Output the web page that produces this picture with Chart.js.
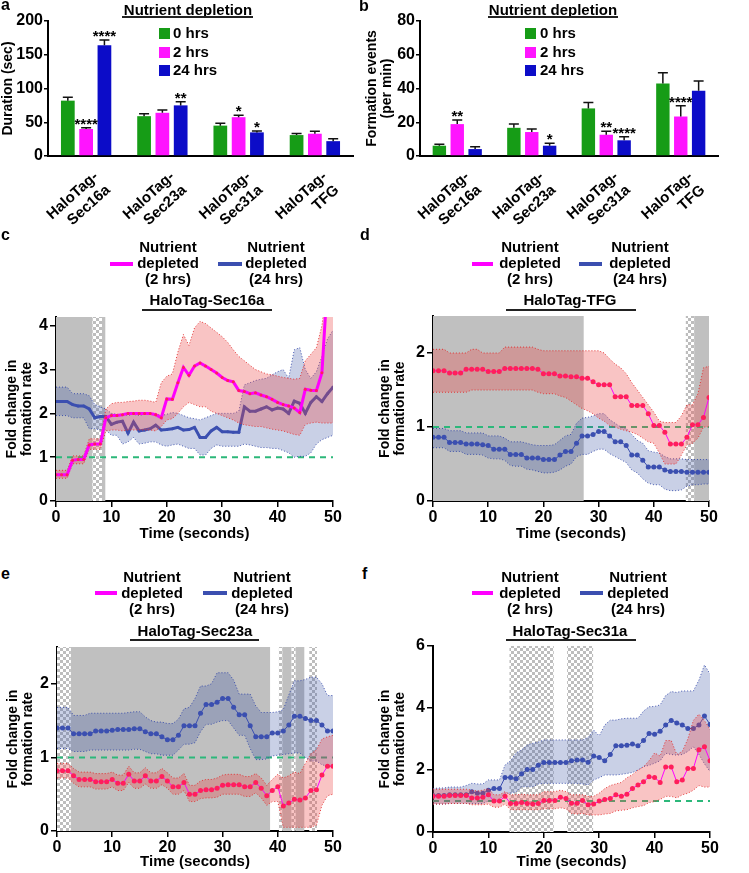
<!DOCTYPE html>
<html>
<head>
<meta charset="utf-8">
<script src="https://cdn.jsdelivr.net/npm/chart.js@4.4.1/dist/chart.umd.min.js"></script>
<style>
  body { margin: 0; background: #fff; width: 749px; height: 873px; position: relative; overflow: hidden;
         font-family: "Liberation Sans", Arial, sans-serif; font-weight: bold; color: #000; }
  canvas { position: absolute; }
  .t { position: absolute; font-size: 15px; line-height: 16px; text-align: center; white-space: nowrap; z-index: 2; }
  .lt { position: absolute; font-size: 15px; line-height: 16px; white-space: nowrap; z-index: 2; }
  .sw { position: absolute; height: 4px; z-index: 2; }
  .ul { position: absolute; height: 2px; background: #222; z-index: 2; }
  .sq { position: absolute; width: 11px; height: 11px; z-index: 2; }
  .pl { position: absolute; font-size: 16px; line-height: 16px; z-index: 2; }
</style>
</head>
<body>

<div class="pl" style="left:1px;top:-3px">a</div>
<div class="pl" style="left:359px;top:-2px">b</div>
<div class="pl" style="left:1px;top:227px">c</div>
<div class="pl" style="left:360px;top:227px">d</div>
<div class="pl" style="left:1px;top:566px">e</div>
<div class="pl" style="left:362px;top:566px">f</div>

<!-- bar legends -->
<div class="t" style="left:108px;top:2px;width:160px">Nutrient depletion</div>
<div class="ul" style="left:122px;top:16px;width:131px"></div>
<div class="sq" style="left:159px;top:28px;background:#169c16"></div>
<div class="sq" style="left:159px;top:47px;background:#ff14ff"></div>
<div class="sq" style="left:159px;top:65px;background:#0c0cc8"></div>
<div class="lt" style="left:173px;top:25px">0 hrs</div>
<div class="lt" style="left:173px;top:44px">2 hrs</div>
<div class="lt" style="left:173px;top:62px">24 hrs</div>

<div class="t" style="left:473px;top:2px;width:160px">Nutrient depletion</div>
<div class="ul" style="left:488px;top:16px;width:130px"></div>
<div class="sq" style="left:525px;top:28px;background:#169c16"></div>
<div class="sq" style="left:525px;top:47px;background:#ff14ff"></div>
<div class="sq" style="left:525px;top:65px;background:#0c0cc8"></div>
<div class="lt" style="left:540px;top:25px">0 hrs</div>
<div class="lt" style="left:540px;top:44px">2 hrs</div>
<div class="lt" style="left:540px;top:62px">24 hrs</div>

<!-- line legends c -->
<div class="sw" style="left:110px;top:262px;width:23px;background:#ff00ff"></div>
<div class="t" style="left:128px;top:239px;width:80px">Nutrient<br>depleted<br>(2 hrs)</div>
<div class="sw" style="left:218px;top:262px;width:24px;background:#3b4fb0"></div>
<div class="t" style="left:236px;top:239px;width:80px">Nutrient<br>depleted<br>(24 hrs)</div>
<div class="t" style="left:127px;top:292px;width:160px">HaloTag-Sec16a</div>
<div class="ul" style="left:142px;top:309px;width:130px"></div>

<!-- d -->
<div class="sw" style="left:472px;top:262px;width:21px;background:#ff00ff"></div>
<div class="t" style="left:490px;top:239px;width:80px">Nutrient<br>depleted<br>(2 hrs)</div>
<div class="sw" style="left:579px;top:262px;width:23px;background:#3b4fb0"></div>
<div class="t" style="left:600px;top:239px;width:80px">Nutrient<br>depleted<br>(24 hrs)</div>
<div class="t" style="left:490px;top:292px;width:160px">HaloTag-TFG</div>
<div class="ul" style="left:506px;top:309px;width:130px"></div>

<!-- e -->
<div class="sw" style="left:95px;top:591px;width:22px;background:#ff00ff"></div>
<div class="t" style="left:112px;top:569px;width:80px">Nutrient<br>depleted<br>(2 hrs)</div>
<div class="sw" style="left:203px;top:591px;width:24px;background:#3b4fb0"></div>
<div class="t" style="left:222px;top:569px;width:80px">Nutrient<br>depleted<br>(24 hrs)</div>
<div class="t" style="left:115px;top:623px;width:160px">HaloTag-Sec23a</div>
<div class="ul" style="left:130px;top:639px;width:129px"></div>

<!-- f -->
<div class="sw" style="left:472px;top:591px;width:21px;background:#ff00ff"></div>
<div class="t" style="left:490px;top:569px;width:80px">Nutrient<br>depleted<br>(2 hrs)</div>
<div class="sw" style="left:580px;top:591px;width:23px;background:#3b4fb0"></div>
<div class="t" style="left:598px;top:569px;width:80px">Nutrient<br>depleted<br>(24 hrs)</div>
<div class="t" style="left:490px;top:623px;width:160px">HaloTag-Sec31a</div>
<div class="ul" style="left:506px;top:639px;width:130px"></div>

<canvas id="chartA" width="370" height="240" style="left:0;top:0"></canvas>
<canvas id="chartB" width="387" height="240" style="left:362px;top:0"></canvas>
<canvas id="chartC" width="370" height="250" style="left:0;top:300px"></canvas>
<canvas id="chartD" width="379" height="250" style="left:370px;top:300px"></canvas>
<canvas id="chartE" width="370" height="243" style="left:0;top:630px"></canvas>
<canvas id="chartF" width="379" height="243" style="left:370px;top:630px"></canvas>

<script>
// ---- bar data (a: duration, b: formation events) ----
const categories = [['HaloTag-', 'Sec16a'], ['HaloTag-', 'Sec23a'], ['HaloTag-', 'Sec31a'], ['HaloTag-', 'TFG']];

const duration0 = [82, 59, 45, 31];
const duration2 = [40, 64, 57.5, 33];
const duration24 = [164, 75, 35, 22];
const durationErr0 = [5, 3.5, 3.5, 2.5];
const durationErr2 = [2, 4, 3, 3.5];
const durationErr24 = [8, 5.5, 2, 3.5];
const durationStars0 = ['', '', '', ''];
const durationStars2 = ['****', '', '*', ''];
const durationStars24 = ['****', '**', '*', ''];

const events0 = [6.1, 16.7, 28.2, 43];
const events2 = [18.9, 14.2, 12.6, 23.4];
const events24 = [4.1, 6.1, 9.3, 38.6];
const eventsErr0 = [0.8, 2.2, 3.5, 6.3];
const eventsErr2 = [2.4, 1.8, 2, 6.4];
const eventsErr24 = [1.4, 1.4, 2.1, 5.9];
const eventsStars0 = ['', '', '', ''];
const eventsStars2 = ['**', '', '**', '****'];
const eventsStars24 = ['', '*', '****', ''];

// ---- fold change time courses ----
const time = [0,1,2,3,4,5,6,7,8,9,10,11,12,13,14,15,16,17,18,19,20,21,22,23,24,25,26,27,28,29,30,31,32,33,34,35,36,37,38,39,40,41,42,43,44,45,46,47,48,49,50];
const baseline = 1;

// c: HaloTag-Sec16a
const sec16a2 = [0.6,0.6,0.6,0.93,0.95,0.95,1.28,1.3,1.3,1.9,1.95,1.95,1.97,2.0,2.0,2.0,2.0,2.0,1.97,1.9,2.33,2.32,2.7,3.05,2.87,3.08,3.15,3.08,3.0,2.92,2.82,2.75,2.72,2.52,2.5,2.45,2.47,2.42,2.38,2.32,2.25,2.2,2.17,2.12,2.02,2.55,2.53,2.52,2.93,5.0,6.0];
const sec16a2Hi = [0.7,0.7,0.7,1.03,1.03,1.03,1.42,1.42,1.42,2.1,2.22,2.25,2.25,2.27,2.28,2.3,2.3,2.28,2.25,2.7,2.85,2.9,3.4,3.8,3.55,3.95,4.1,4.05,3.95,3.85,3.75,3.62,3.45,3.3,3.2,3.1,3.0,2.95,2.9,2.88,2.85,2.82,2.8,2.78,2.8,3.2,3.35,3.5,4.0,5.0,5.5];
const sec16a2Lo = [0.52,0.52,0.52,0.85,0.85,0.85,1.18,1.18,1.18,1.6,1.62,1.62,1.6,1.62,1.62,1.62,1.62,1.62,1.6,1.7,1.85,1.88,2.0,2.15,2.25,2.2,2.15,2.15,2.05,2.0,1.95,1.9,1.85,1.78,1.74,1.72,1.7,1.7,1.67,1.64,1.62,1.6,1.56,1.52,1.5,1.75,1.78,1.8,1.78,1.78,1.78];
const sec16a24 = [2.27,2.27,2.27,2.2,2.17,2.17,2.1,1.9,1.93,1.93,1.75,1.8,1.82,1.55,1.8,1.6,1.62,1.65,1.73,1.62,1.63,1.65,1.68,1.62,1.63,1.68,1.45,1.45,1.6,1.68,1.58,1.58,1.57,1.57,2.15,2.05,2.05,2.1,2.15,2.08,2.12,2.1,2.0,2.28,2.23,2.0,2.25,2.38,2.27,2.45,2.6];
const sec16a24Hi = [2.6,2.6,2.6,2.45,2.45,2.45,2.4,2.2,2.15,2.1,2.0,1.98,1.98,1.95,1.98,1.95,1.98,2.0,2.0,1.95,1.98,2.02,2.0,1.95,1.9,1.88,1.85,1.9,1.95,2.0,2.0,2.0,2.0,2.05,2.65,2.7,2.75,2.78,2.8,2.88,2.95,3.0,2.8,3.45,3.5,3.0,2.8,2.95,3.3,3.7,3.9];
const sec16a24Lo = [1.95,1.95,1.95,1.9,1.9,1.9,1.65,1.65,1.62,1.62,1.5,1.5,1.3,1.35,1.45,1.3,1.32,1.35,1.35,1.28,1.25,1.28,1.3,1.25,1.2,1.2,1.05,1.05,1.2,1.28,1.25,1.25,1.25,1.25,1.3,1.28,1.25,1.22,1.22,1.2,1.2,1.15,1.1,1.0,1.02,1.02,1.1,1.3,1.4,1.45,1.5];
const sec16aSolid = [[0, 6.6], [8.3, 8.9]];
const sec16aChecked = [[6.6, 8.3]];

// d: HaloTag-TFG
const tfg2 = [1.76,1.76,1.76,1.73,1.73,1.73,1.78,1.78,1.78,1.78,1.75,1.75,1.75,1.79,1.79,1.79,1.79,1.79,1.79,1.78,1.72,1.72,1.72,1.69,1.69,1.68,1.68,1.66,1.66,1.61,1.57,1.57,1.57,1.41,1.41,1.41,1.29,1.29,1.29,1.18,1.02,1.02,0.93,0.77,0.77,0.77,0.86,1.03,1.03,1.13,1.4];
const tfg2Hi = [2.05,2.05,2.05,2.0,2.0,2.0,2.0,2.05,2.05,2.0,2.0,2.0,2.0,2.08,2.08,2.08,2.08,2.08,2.08,2.05,2.03,2.03,2.03,2.03,2.03,2.03,2.03,2.03,2.03,2.03,2.03,2.0,1.92,1.85,1.8,1.72,1.6,1.5,1.4,1.3,1.2,1.08,1.06,1.06,1.06,1.15,1.3,1.3,1.45,1.8,1.82];
const tfg2Lo = [1.47,1.47,1.47,1.47,1.47,1.47,1.47,1.5,1.5,1.5,1.5,1.5,1.5,1.5,1.5,1.5,1.5,1.5,1.5,1.47,1.45,1.45,1.45,1.42,1.4,1.35,1.3,1.25,1.22,1.18,1.12,1.08,1.02,1.0,0.97,0.95,0.93,0.9,0.85,0.8,0.78,0.65,0.5,0.5,0.5,0.62,0.76,0.78,0.85,1.0,1.0];
const tfg24 = [0.86,0.86,0.86,0.79,0.79,0.79,0.77,0.77,0.77,0.76,0.75,0.7,0.7,0.7,0.63,0.63,0.63,0.58,0.58,0.58,0.56,0.56,0.56,0.62,0.67,0.67,0.78,0.88,0.88,0.9,0.94,0.94,0.88,0.8,0.8,0.75,0.62,0.62,0.55,0.46,0.46,0.46,0.42,0.4,0.4,0.4,0.39,0.39,0.39,0.39,0.39];
const tfg24Hi = [0.98,0.98,0.98,0.95,0.95,0.95,0.92,0.92,0.92,0.92,0.88,0.88,0.88,0.85,0.8,0.8,0.8,0.78,0.76,0.75,0.75,0.75,0.76,0.82,0.88,0.9,1.05,1.12,1.13,1.15,1.18,1.18,1.1,1.05,1.0,0.98,0.9,0.82,0.78,0.68,0.66,0.65,0.6,0.57,0.57,0.57,0.56,0.56,0.56,0.56,0.56];
const tfg24Lo = [0.72,0.72,0.72,0.67,0.67,0.67,0.63,0.63,0.63,0.62,0.58,0.57,0.57,0.55,0.48,0.47,0.47,0.43,0.42,0.4,0.38,0.38,0.39,0.42,0.47,0.5,0.6,0.63,0.63,0.67,0.7,0.7,0.64,0.6,0.56,0.52,0.42,0.38,0.3,0.24,0.22,0.22,0.16,0.14,0.14,0.15,0.2,0.22,0.22,0.23,0.23];
const tfgSolid = [[0, 27.3], [47.3, 50]];
const tfgChecked = [[45.8, 47.3]];

// e: HaloTag-Sec23a
const sec23a2 = [0.82,0.82,0.82,0.75,0.7,0.7,0.7,0.67,0.67,0.67,0.7,0.65,0.65,0.77,0.68,0.68,0.75,0.68,0.68,0.74,0.68,0.6,0.6,0.66,0.5,0.5,0.55,0.56,0.56,0.58,0.62,0.63,0.63,0.63,0.6,0.6,0.66,0.58,0.48,0.55,0.6,0.34,0.38,0.43,0.42,0.45,0.55,0.56,0.76,0.88,0.88];
const sec23a2Hi = [0.92,0.92,0.92,0.85,0.8,0.8,0.8,0.78,0.78,0.78,0.8,0.76,0.76,0.88,0.79,0.79,0.86,0.79,0.79,0.85,0.79,0.72,0.72,0.78,0.62,0.62,0.68,0.7,0.7,0.72,0.76,0.77,0.77,0.77,0.74,0.74,0.78,0.72,0.62,0.7,0.77,0.72,0.75,0.8,0.78,0.92,1.05,1.1,1.25,1.28,1.3];
const sec23a2Lo = [0.72,0.72,0.72,0.65,0.6,0.6,0.6,0.57,0.57,0.57,0.6,0.55,0.55,0.66,0.58,0.58,0.64,0.58,0.58,0.63,0.58,0.5,0.5,0.55,0.4,0.4,0.44,0.45,0.45,0.46,0.5,0.5,0.5,0.5,0.47,0.47,0.52,0.45,0.35,0.4,0.4,0.05,0.05,0.05,0.05,0.05,0.05,0.08,0.35,0.48,0.5];
const sec23a24 = [1.4,1.4,1.4,1.32,1.32,1.32,1.32,1.36,1.36,1.36,1.37,1.38,1.38,1.38,1.39,1.39,1.35,1.32,1.32,1.28,1.24,1.24,1.3,1.43,1.43,1.43,1.6,1.72,1.72,1.75,1.8,1.8,1.68,1.58,1.58,1.43,1.28,1.28,1.28,1.33,1.33,1.36,1.44,1.56,1.56,1.53,1.5,1.5,1.44,1.36,1.36];
const sec23a24Hi = [1.68,1.68,1.68,1.57,1.57,1.57,1.6,1.6,1.6,1.6,1.6,1.6,1.6,1.61,1.62,1.62,1.55,1.5,1.48,1.48,1.46,1.46,1.52,1.66,1.68,1.8,1.97,1.97,2.0,2.15,2.15,2.15,2.05,1.86,1.86,1.86,1.7,1.61,1.61,1.61,1.62,1.65,1.85,2.04,2.04,2.06,2.09,2.09,2.0,1.84,1.84];
const sec23a24Lo = [1.12,1.12,1.12,1.08,1.08,1.08,1.1,1.1,1.1,1.1,1.1,1.1,1.1,1.1,1.11,1.11,1.08,1.05,1.05,1.03,1.03,1.03,1.1,1.18,1.18,1.2,1.35,1.45,1.45,1.48,1.5,1.5,1.4,1.3,1.3,1.12,0.97,0.97,0.98,1.02,1.03,1.04,1.05,1.06,1.06,1.0,0.95,0.95,0.9,0.88,0.88];
const sec23aSolid = [[2.5, 38.6], [40.8, 42.5], [43.2, 44.8]];
const sec23aChecked = [[0, 2.5], [40.2, 40.8], [42.5, 43.2], [45.7, 47.1]];

// f: HaloTag-Sec31a
const sec31a2 = [1.15,1.15,1.15,1.18,1.18,1.18,1.18,1.1,1.1,1.12,1.2,1.0,1.0,1.15,0.92,0.92,0.95,0.92,0.9,0.92,1.02,1.02,1.02,1.12,1.08,0.93,0.93,1.02,0.88,0.9,1.0,1.05,1.08,1.2,1.15,1.22,1.4,1.52,1.62,1.78,1.76,1.6,2.1,2.1,1.62,1.68,2.05,2.05,2.65,2.75,2.3];
const sec31a2Hi = [1.38,1.38,1.38,1.38,1.38,1.38,1.38,1.35,1.32,1.35,1.4,1.2,1.2,1.3,1.2,1.2,1.22,1.2,1.2,1.2,1.3,1.3,1.3,1.35,1.3,1.2,1.2,1.2,1.15,1.15,1.25,1.4,1.5,1.55,1.6,1.75,1.85,2.0,2.1,2.3,2.55,2.45,2.95,2.95,2.5,2.6,3.0,3.6,3.8,3.6,3.3];
const sec31a2Lo = [0.9,0.9,0.9,0.92,0.92,0.92,0.92,0.88,0.88,0.88,0.9,0.8,0.8,0.9,0.72,0.72,0.72,0.72,0.72,0.72,0.75,0.75,0.75,0.78,0.75,0.6,0.58,0.6,0.55,0.55,0.55,0.58,0.6,0.68,0.7,0.72,0.78,0.82,0.85,0.95,0.98,1.05,1.15,1.15,1.1,1.2,1.25,1.35,1.5,1.45,1.45];
const sec31a24 = [1.18,1.18,1.18,1.2,1.2,1.2,1.2,1.3,1.25,1.25,1.35,1.4,1.4,1.76,1.76,1.72,1.88,2.02,2.02,2.15,2.24,2.24,2.24,2.24,2.24,2.3,2.32,2.32,2.25,2.45,2.4,2.3,2.5,2.78,2.78,2.8,2.84,2.78,2.95,3.18,3.15,3.25,3.45,3.6,3.52,3.45,3.34,3.34,3.45,3.74,3.47];
const sec31a24Hi = [1.4,1.42,1.42,1.45,1.45,1.45,1.5,1.57,1.55,1.55,1.68,1.68,1.68,2.16,2.3,2.55,2.65,2.8,2.86,2.9,2.97,2.97,2.97,2.97,2.97,2.97,2.97,2.97,3.05,3.29,3.1,3.45,3.61,3.61,3.65,3.67,3.67,3.67,3.9,4.04,4.05,4.1,4.4,4.53,4.5,4.55,4.55,4.55,4.9,5.39,5.1];
const sec31a24Lo = [0.9,0.9,0.9,0.92,0.92,0.92,0.92,0.92,0.92,0.92,1.0,1.03,1.05,1.25,1.25,1.3,1.46,1.46,1.46,1.55,1.57,1.57,1.57,1.57,1.57,1.57,1.57,1.55,1.52,1.68,1.75,1.84,1.84,1.84,1.86,1.89,1.92,2.0,2.11,2.15,2.22,2.3,2.54,2.5,2.48,2.5,2.6,2.75,2.5,2.2,1.95];
const sec31aSolid = [];
const sec31aChecked = [[13.8, 21.8], [24.2, 28.9]];

// ---- look ----
Chart.defaults.font.family = '"Liberation Sans", Arial, sans-serif';
Chart.defaults.font.weight = 'bold';
Chart.defaults.font.size = 15;
Chart.defaults.color = '#000';

const GREEN_BAR = '#169c16', MAGENTA_BAR = '#ff14ff', BLUE_BAR = '#0c0cc8';
const MAGENTA = '#ff00ff', PINK_PT = '#ff1f5a', PINK_FILL = 'rgba(235,70,70,0.32)', PINK_EDGE = 'rgba(225,40,40,0.9)';
const BLUE = '#3b4fb0', BLUE_FILL = 'rgba(60,85,165,0.28)', BLUE_EDGE = 'rgba(50,70,170,0.9)';
const GREEN_LINE = '#2cb87a', GRAY = '#c0c0c0';

function checkerPattern(ctx) {
    const c = document.createElement('canvas');
    c.width = 6; c.height = 6;
    const g = c.getContext('2d');
    g.fillStyle = '#fff'; g.fillRect(0, 0, 6, 6);
    g.fillStyle = '#bdbdbd'; g.fillRect(0, 0, 3, 3); g.fillRect(3, 3, 3, 3);
    return ctx.createPattern(c, 'repeat');
}

// grey / checkered time windows behind the traces
const shadePlugin = {
    id: 'shade',
    beforeDatasetsDraw(chart, args, opts) {
        const { ctx, chartArea: a, scales: { x } } = chart;
        ctx.save();
        ctx.beginPath();
        ctx.rect(a.left, a.top, a.width, a.height);
        ctx.clip();
        ctx.fillStyle = GRAY;
        (opts.solid || []).forEach(([s, e]) => {
            const x0 = x.getPixelForValue(s), x1 = x.getPixelForValue(e);
            ctx.fillRect(x0, a.top, x1 - x0, a.height);
        });
        ctx.fillStyle = checkerPattern(ctx);
        (opts.checked || []).forEach(([s, e]) => {
            const x0 = x.getPixelForValue(s), x1 = x.getPixelForValue(e);
            ctx.fillRect(x0, a.top, x1 - x0, a.height);
        });
        ctx.restore();
    }
};

// SEM caps and significance stars on bars
const errorPlugin = {
    id: 'errbars',
    afterDatasetsDraw(chart) {
        const { ctx, scales: { y } } = chart;
        ctx.save();
        chart.data.datasets.forEach((ds, di) => {
            const meta = chart.getDatasetMeta(di);
            meta.data.forEach((bar, i) => {
                const top = y.getPixelForValue(ds.data[i] + ds.errors[i]);
                ctx.strokeStyle = '#111';
                ctx.lineWidth = 1.5;
                ctx.beginPath();
                ctx.moveTo(bar.x, bar.y);
                ctx.lineTo(bar.x, top);
                ctx.moveTo(bar.x - 5, top);
                ctx.lineTo(bar.x + 5, top);
                ctx.stroke();
                if (ds.stars[i]) {
                    ctx.fillStyle = '#000';
                    ctx.font = 'bold 15px "Liberation Sans", Arial, sans-serif';
                    ctx.textAlign = 'center';
                    ctx.textBaseline = 'alphabetic';
                    ctx.fillText(ds.stars[i], bar.x, top + 1);
                }
            });
        });
        ctx.restore();
    }
};

const axisLine = { color: '#000', width: 2 };
const tickMarks = { display: true, drawOnChartArea: false, tickLength: 4, color: '#000', lineWidth: 1.5 };

function barChart(id, o) {
    new Chart(document.getElementById(id), {
        type: 'bar',
        data: {
            labels: categories,
            datasets: [
                { label: '0 hrs', data: o.v0, errors: o.e0, stars: o.s0, backgroundColor: GREEN_BAR },
                { label: '2 hrs', data: o.v2, errors: o.e2, stars: o.s2, backgroundColor: MAGENTA_BAR },
                { label: '24 hrs', data: o.v24, errors: o.e24, stars: o.s24, backgroundColor: BLUE_BAR }
            ]
        },
        plugins: [errorPlugin],
        options: {
            responsive: false,
            animation: false,
            devicePixelRatio: 1,
            datasets: { bar: { categoryPercentage: 0.72, barPercentage: 0.75 } },
            layout: { autoPadding: false, padding: o.pad },
            plugins: { legend: { display: false }, tooltip: { enabled: false } },
            scales: {
                x: {
                    grid: { display: false },
                    border: axisLine,
                    ticks: { minRotation: 42, maxRotation: 42, autoSkip: false, padding: 4, labelOffset: 10, font: { size: 15 } },
                    afterFit: s => { s.height = o.xh; }
                },
                y: {
                    min: 0, max: o.ymax,
                    ticks: { stepSize: o.step, padding: 1, font: { size: 16 } },
                    grid: tickMarks,
                    border: axisLine,
                    title: { display: true, text: o.ytitle, font: { size: 14, lineHeight: 1.1 }, padding: { top: 0, bottom: 0 } },
                    afterFit: s => { s.width = o.yw; }
                }
            }
        }
    });
}

function foldChart(id, o) {
    const pts = v => time.map((t, i) => ({ x: t, y: v[i] }));
    const band = (v, edge, fill, toNext) => ({
        data: pts(v), fill: toNext ? '+1' : false, backgroundColor: fill,
        borderColor: edge, borderWidth: 1, borderDash: [1, 2], pointRadius: 0, tension: 0
    });
    new Chart(document.getElementById(id), {
        type: 'line',
        data: {
            datasets: [
                { data: pts(o.mid2), borderColor: MAGENTA, borderWidth: o.lw, pointRadius: o.pr,
                  pointBackgroundColor: PINK_PT, pointBorderWidth: 0, tension: 0, fill: false },
                band(o.hi2, PINK_EDGE, PINK_FILL, true),
                band(o.lo2, PINK_EDGE, PINK_FILL, false),
                { data: pts(o.mid24), borderColor: BLUE, borderWidth: o.lw, pointRadius: o.pr,
                  pointBackgroundColor: BLUE, pointBorderWidth: 0, tension: 0, fill: false },
                band(o.hi24, BLUE_EDGE, BLUE_FILL, true),
                band(o.lo24, BLUE_EDGE, BLUE_FILL, false),
                { data: [{ x: time[0], y: baseline }, { x: time[time.length - 1], y: baseline }],
                  borderColor: GREEN_LINE, borderWidth: 2, borderDash: [6, 5], pointRadius: 0, fill: false }
            ]
        },
        plugins: [shadePlugin],
        options: {
            responsive: false,
            animation: false,
            devicePixelRatio: 1,
            layout: { autoPadding: false, padding: o.pad },
            plugins: {
                legend: { display: false },
                tooltip: { enabled: false },
                shade: { solid: o.solid, checked: o.checked }
            },
            scales: {
                x: {
                    type: 'linear', min: 0, max: 50,
                    ticks: { stepSize: 10, padding: 1, font: { size: 16 } },
                    grid: { ...tickMarks, tickLength: 6 },
                    border: axisLine,
                    title: { display: true, text: 'Time (seconds)', font: { size: 15 }, padding: { top: 0, bottom: 2 } },
                    afterFit: s => { s.height = o.xh; }
                },
                y: {
                    min: 0, max: o.ymax,
                    ticks: { stepSize: o.step, includeBounds: false, padding: 2, font: { size: 16 } },
                    grid: { ...tickMarks, tickLength: 6 },
                    border: axisLine,
                    title: { display: true, text: ['Fold change in', 'formation rate'], font: { size: 14, lineHeight: 1.1 }, padding: { top: 2, bottom: 0 } },
                    afterFit: s => { s.width = o.yw; }
                }
            }
        }
    });
}

barChart('chartA', {
    v0: duration0, v2: duration2, v24: duration24,
    e0: durationErr0, e2: durationErr2, e24: durationErr24,
    s0: durationStars0, s2: durationStars2, s24: durationStars24,
    ymax: 200, step: 50, ytitle: 'Duration (sec)',
    pad: { left: 0, top: 21, right: 17, bottom: 0 }, yw: 48, xh: 84
});

barChart('chartB', {
    v0: events0, v2: events2, v24: events24,
    e0: eventsErr0, e2: eventsErr2, e24: eventsErr24,
    s0: eventsStars0, s2: eventsStars2, s24: eventsStars24,
    ymax: 80, step: 20, ytitle: ['Formation events', '(per min)'],
    pad: { left: 2, top: 21, right: 31, bottom: 0 }, yw: 56, xh: 84
});

foldChart('chartC', {
    mid2: sec16a2, hi2: sec16a2Hi, lo2: sec16a2Lo,
    mid24: sec16a24, hi24: sec16a24Hi, lo24: sec16a24Lo,
    solid: sec16aSolid, checked: sec16aChecked,
    ymax: 4.2, step: 1, lw: 3, pr: 1.5,
    pad: { left: 2, top: 17, right: 37, bottom: 5 }, yw: 54, xh: 44
});

foldChart('chartD', {
    mid2: tfg2, hi2: tfg2Hi, lo2: tfg2Lo,
    mid24: tfg24, hi24: tfg24Hi, lo24: tfg24Lo,
    solid: tfgSolid, checked: tfgChecked,
    ymax: 2.5, step: 1, lw: 1, pr: 2.5,
    pad: { left: 5, top: 16, right: 40, bottom: 5 }, yw: 58, xh: 44
});

foldChart('chartE', {
    mid2: sec23a2, hi2: sec23a2Hi, lo2: sec23a2Lo,
    mid24: sec23a24, hi24: sec23a24Hi, lo24: sec23a24Lo,
    solid: sec23aSolid, checked: sec23aChecked,
    ymax: 2.5, step: 1, lw: 1, pr: 2.5,
    pad: { left: 3, top: 17, right: 37, bottom: 0 }, yw: 54, xh: 42
});

foldChart('chartF', {
    mid2: sec31a2, hi2: sec31a2Hi, lo2: sec31a2Lo,
    mid24: sec31a24, hi24: sec31a24Hi, lo24: sec31a24Lo,
    solid: sec31aSolid, checked: sec31aChecked,
    ymax: 6, step: 2, lw: 1, pr: 2.5,
    pad: { left: 5, top: 16, right: 39, bottom: 0 }, yw: 58, xh: 41
});
</script>
</body>
</html>
